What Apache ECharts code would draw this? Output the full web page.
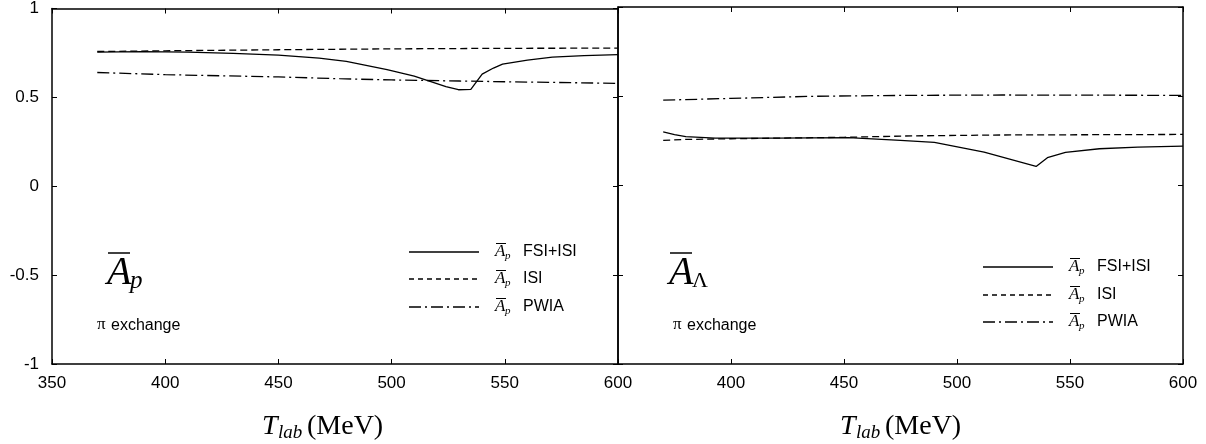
<!DOCTYPE html>
<html><head><meta charset="utf-8">
<script src="https://cdn.jsdelivr.net/npm/echarts@6/dist/echarts.min.js"></script>
<style>html,body{margin:0;padding:0;background:#fff}#c{width:1206px;height:444px}</style>
</head><body><div id="c"></div>
<script>
// ---------- DATA ----------
// Left panel: A_p (proton asymmetry)
const apFsiT   = [370, 390, 410, 430, 450, 468, 480, 498, 510, 517, 524, 529.5, 535, 540, 545, 549, 560, 571, 585, 600];
const apFsiV   = [0.755, 0.757, 0.755, 0.748, 0.738, 0.721, 0.703, 0.656, 0.620, 0.590, 0.560, 0.543, 0.545, 0.631, 0.665, 0.687, 0.710, 0.726, 0.735, 0.740];
const apIsiT   = [370, 400, 450, 500, 550, 600];
const apIsiV   = [0.758, 0.762, 0.768, 0.773, 0.776, 0.777];
const apPwiaT  = [370, 400, 450, 477, 500, 530, 560, 600];
const apPwiaV  = [0.640, 0.628, 0.615, 0.605, 0.598, 0.592, 0.586, 0.579];
// Right panel: A_Lambda
const alFsiT   = [370, 375, 380, 393, 420, 452, 475, 490, 512, 535, 540, 548, 563, 580, 600];
const alFsiV   = [0.300, 0.285, 0.274, 0.265, 0.265, 0.268, 0.253, 0.242, 0.187, 0.107, 0.156, 0.185, 0.206, 0.215, 0.221];
const alIsiT   = [370, 380, 400, 450, 480, 520, 600];
const alIsiV   = [0.253, 0.258, 0.262, 0.270, 0.278, 0.283, 0.286];
const alPwiaT  = [370, 400, 437, 480, 520, 560, 600];
const alPwiaV  = [0.478, 0.488, 0.500, 0.505, 0.507, 0.506, 0.505];

const xMin = 350, xMax = 600, xStep = 50;
const yMin = -1, yMax = 1, yStep = 0.5;
const legendLabels = ['FSI+ISI', 'ISI', 'PWIA'];
const panelNote = 'exchange';

// ---------- STYLE ----------
const SANS = '"Liberation Sans", Arial, sans-serif';
const SERIF = '"Liberation Serif", "Times New Roman", serif';
const DASHES = ['solid', [7, 4], [12, 4, 2, 4]];
const LW = 1.3;

function pairs(t, v) { return t.map((x, i) => [x, v[i]]); }

const chart = echarts.init(document.getElementById('c'), null, {renderer: 'canvas'});

function xAx(grid, pos, labels, hideMin) {
  return {
    type: 'value', gridIndex: grid, position: pos, min: xMin, max: xMax, interval: xStep,
    axisLine: {show: true, onZero: false, lineStyle: {color: '#000', width: 1.5}},
    axisTick: {show: true, inside: true, length: 5, lineStyle: {color: '#000', width: 1}},
    axisLabel: {show: labels, color: '#000', fontSize: 17, fontFamily: SANS, margin: 11, showMinLabel: !hideMin},
    splitLine: {show: false}
  };
}
function yAx(grid, pos, labels) {
  return {
    type: 'value', gridIndex: grid, position: pos, min: yMin, max: yMax, interval: yStep,
    axisLine: {show: true, onZero: false, lineStyle: {color: '#000', width: 1.5}},
    axisTick: {show: true, inside: true, length: 5, lineStyle: {color: '#000', width: 1}},
    axisLabel: {show: labels, color: '#000', fontSize: 17, fontFamily: SANS, margin: 13},
    splitLine: {show: false}
  };
}
function ser(name, xi, yi, t, v, k) {
  return {
    name: name, type: 'line', xAxisIndex: xi, yAxisIndex: yi, data: pairs(t, v),
    symbol: 'none', showSymbol: false, smooth: false, silent: true,
    lineStyle: {color: '#000', width: LW, type: DASHES[k]}
  };
}

// ---------- ANNOTATIONS ----------
function ovText(x, y, base, sub, size, subSize, subDx, subDy, ovW) {
  return [
    {type: 'text', x: x, y: y, style: {text: base, font: 'italic ' + size + 'px ' + SERIF, fill: '#000', textVerticalAlign: 'middle'}},
    {type: 'line', shape: {x1: x + 1, y1: y - size * 0.5, x2: x + 1 + ovW, y2: y - size * 0.5}, style: {stroke: '#000', lineWidth: size > 20 ? 1.5 : 1}},
    {type: 'text', x: x + subDx, y: y + subDy, style: {text: sub, font: (sub === 'Λ' ? '' : 'italic ') + subSize + 'px ' + SERIF, fill: '#000', textVerticalAlign: 'middle'}}
  ];
}
function legendEntry(x, y, k) {
  return [
    {type: 'line', shape: {x1: x, y1: y, x2: x + 70, y2: y}, style: {stroke: '#000', lineWidth: LW, lineDash: k === 0 ? null : (k === 1 ? [5, 4] : DASHES[k])}}
  ].concat(ovText(x + 86, y, 'A', 'p', 17, 11, 10, 4, 10)).concat([
    {type: 'text', x: x + 114, y: y, style: {text: legendLabels[k], font: '16px ' + SANS, fill: '#000', textVerticalAlign: 'middle'}}
  ]);
}
function axisTitle(cx, y) {
  return [
    {type: 'text', x: cx - 63, y: y, style: {text: 'T', font: 'italic 28px ' + SERIF, fill: '#000', textVerticalAlign: 'middle'}},
    {type: 'text', x: cx - 47, y: y + 6, style: {text: 'lab', font: 'italic 19px ' + SERIF, fill: '#000', textVerticalAlign: 'middle'}},
    {type: 'text', x: cx - 18, y: y, style: {text: '(MeV)', font: '28px ' + SERIF, fill: '#000', textVerticalAlign: 'middle'}}
  ];
}
function note(x, y) {
  return [
    {type: 'text', x: x, y: y - 1, style: {text: 'π', font: '17px ' + SERIF, fill: '#000', textVerticalAlign: 'middle'}},
    {type: 'text', x: x + 14, y: y, style: {text: panelNote, font: '16px ' + SANS, fill: '#000', textVerticalAlign: 'middle'}}
  ];
}

let graphics = [];
graphics = graphics
  .concat(ovText(107, 273, 'A', 'p', 40, 25, 23, 8, 22))
  .concat(ovText(669, 273, 'A', 'Λ', 40, 22, 23, 8, 22))
  .concat(note(97, 326)).concat(note(673, 326))
  .concat(legendEntry(409, 252, 0)).concat(legendEntry(409, 279, 1)).concat(legendEntry(409, 307, 2))
  .concat(legendEntry(983, 267, 0)).concat(legendEntry(983, 295, 1)).concat(legendEntry(983, 322, 2))
  .concat(axisTitle(325, 427)).concat(axisTitle(903, 427));

chart.setOption({
  animation: false,
  backgroundColor: '#fff',
  grid: [
    {left: 52, top: 7, width: 566, height: 357, show: false},
    {left: 618, top: 7, width: 565, height: 357, show: false}
  ],
  xAxis: [xAx(0, 'bottom', true, false), xAx(0, 'top', false, false), xAx(1, 'bottom', true, true), xAx(1, 'top', false, false)],
  yAxis: [yAx(0, 'left', true), yAx(0, 'right', false), yAx(1, 'left', false), yAx(1, 'right', false)],
  series: [
    ser('Ap FSI+ISI', 0, 0, apFsiT, apFsiV, 0),
    ser('Ap ISI', 0, 0, apIsiT, apIsiV, 1),
    ser('Ap PWIA', 0, 0, apPwiaT, apPwiaV, 2),
    ser('AL FSI+ISI', 2, 2, alFsiT, alFsiV, 0),
    ser('AL ISI', 2, 2, alIsiT, alIsiV, 1),
    ser('AL PWIA', 2, 2, alPwiaT, alPwiaV, 2)
  ],
  graphic: graphics
});
</script>
</body></html>
